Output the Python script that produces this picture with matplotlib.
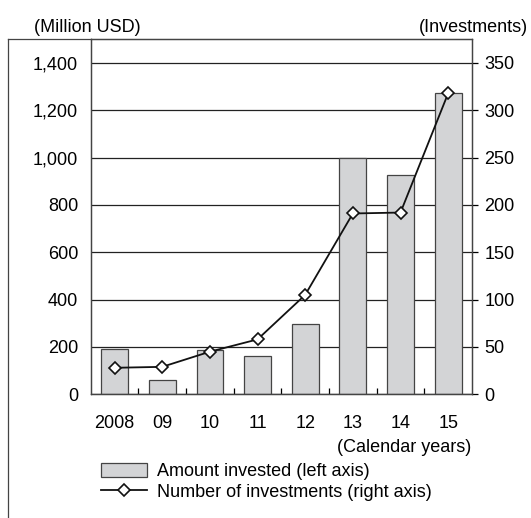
import matplotlib
matplotlib.use("Agg")
import matplotlib.pyplot as plt
from matplotlib.lines import Line2D
import numpy as np

plt.rcParams['font.family'] = ['Liberation Sans', 'DejaVu Sans']

years = ['2008', '09', '10', '11', '12', '13', '14', '15']
amount = [190, 60, 187, 163, 297, 998, 925, 1275]      # million USD, left axis
count = [28, 29, 45, 58, 105, 191, 192, 318]          # investments, right axis

W, H = 531, 518
fig = plt.figure(figsize=(W/100, H/100), dpi=100)
L, R, T, B = 90.7, 472, 39.3, 394.3
ax = fig.add_axes([L/W, 1-B/H, (R-L)/W, (B-T)/H])
x = np.arange(len(years))

ax.set_axisbelow(True)
ax.yaxis.grid(True, color='#222222', lw=0.9)
ax.bar(x, amount, width=0.56, color='#d3d4d6', edgecolor='#444444', lw=0.9,
       label='Amount invested (left axis)', zorder=2)
ax.set_xlim(-0.5, len(years) - 0.5)
ax.set_ylim(0, 1500)
ax.set_yticks(range(0, 1401, 200))
ax.set_yticklabels([f'{v:,}' for v in range(0, 1401, 200)], fontsize=13)
ax.tick_params(axis='y', length=0, pad=9)
ax.set_xticks(x)
ax.set_xticklabels(years, fontsize=13)
ax.tick_params(axis='x', length=0, pad=15)
ax.set_xticks(x[:-1] + 0.5, minor=True)
ax.tick_params(axis='x', which='minor', direction='in', length=4, width=0.9)
for s in ax.spines.values():
    s.set_color('#444444')
    s.set_linewidth(0.9)

ax2 = ax.twinx()
ax2.plot(x, count, color='#111111', lw=1.3, marker='D', markersize=6,
         markerfacecolor='white', markeredgecolor='#111111', markeredgewidth=1.2,
         label='Number of investments (right axis)', zorder=3)
ax2.set_ylim(0, 375)
ax2.set_yticks(range(0, 351, 50))
ax2.set_yticklabels([str(v) for v in range(0, 351, 50)], fontsize=13)
ax2.tick_params(axis='y', direction='out', length=4, width=0.9, pad=5)
for s in ax2.spines.values():
    s.set_color('#444444')
    s.set_linewidth(0.9)

fig.text(34/W, 1-27/H, '(Million USD)', fontsize=13, va='center', ha='left')
fig.text(528/W, 1-27/H, '(Investments)', fontsize=13, va='center', ha='right')
fig.text(471/W, 1-448/H, '(Calendar years)', fontsize=13, va='center', ha='right')

# outer frame: left and top lines
fx = 8.3/W
fy = 1-T/H
fig.add_artist(Line2D([fx, fx], [0, fy], color='#444444', lw=0.9))
fig.add_artist(Line2D([fx, L/W], [fy, fy], color='#444444', lw=0.9))

h1, l1 = ax.get_legend_handles_labels()
h2, l2 = ax2.get_legend_handles_labels()
fig.legend(h1 + h2, l1 + l2, loc='upper left', bbox_to_anchor=(100.7/W, 1-463/H),
           frameon=False, fontsize=13, handlelength=2.55, handleheight=0.8,
           labelspacing=0.2, handletextpad=0.57, borderaxespad=0, borderpad=0)

fig.savefig('out.png', dpi=100)
